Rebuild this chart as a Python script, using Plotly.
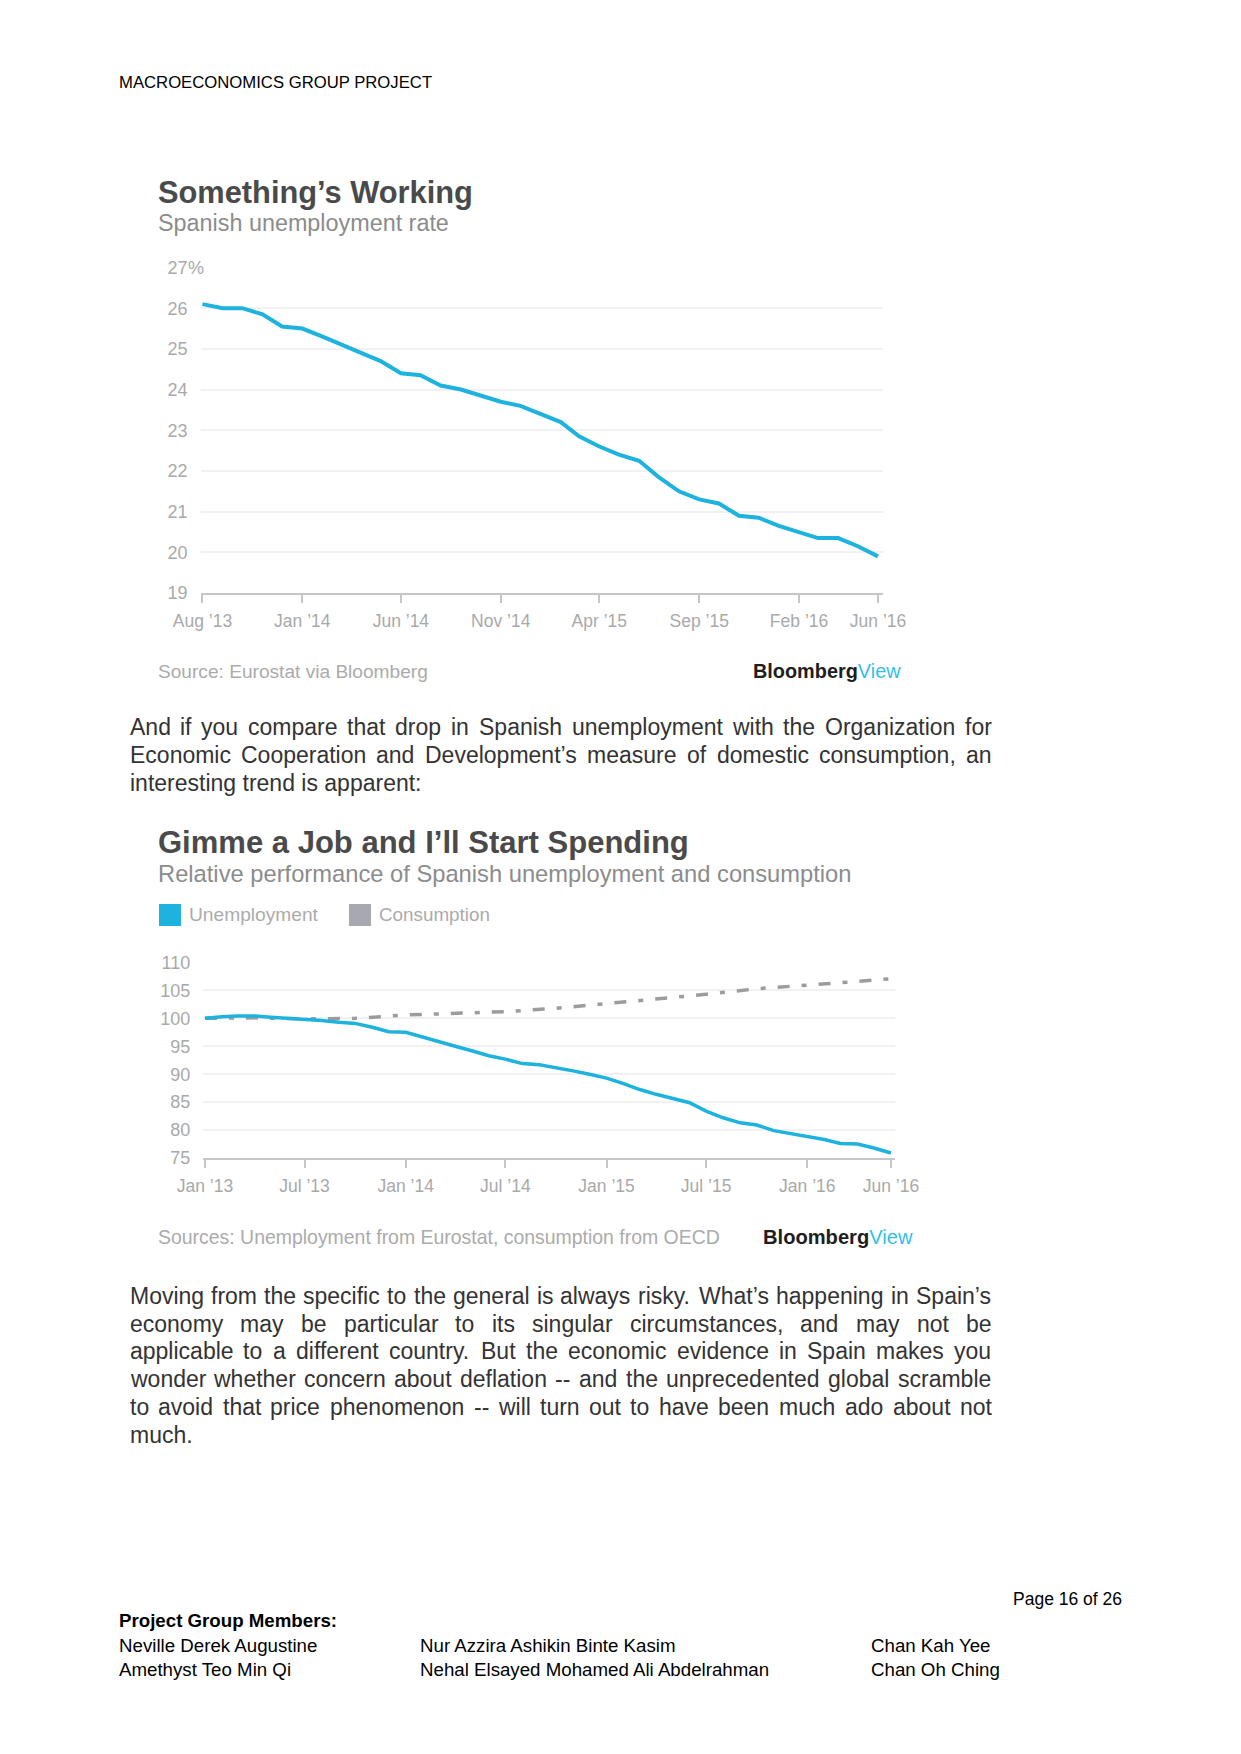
import plotly.graph_objects as go
import pandas as pd

# ------------------------------------------------------------------ data
# Chart 1: Spanish unemployment rate (%), monthly Aug 2013 - Jun 2016
rate_dates = pd.date_range("2013-08-01", "2016-06-01", freq="MS")
rate_values = [26.1, 26.0, 26.0, 25.85, 25.55, 25.5, 25.3, 25.1, 24.9, 24.7,
               24.4, 24.35, 24.1, 24.0, 23.85, 23.7, 23.6, 23.4, 23.2, 22.85,
               22.6, 22.4, 22.25, 21.85, 21.5, 21.3, 21.2, 20.9, 20.85, 20.65,
               20.5, 20.35, 20.35, 20.15, 19.9]
rate_xticks = ["2013-08-01", "2014-01-01", "2014-06-01", "2014-11-01",
               "2015-04-01", "2015-09-01", "2016-02-01", "2016-06-01"]
rate_xticktext = ["Aug \u201913", "Jan \u201914", "Jun \u201914", "Nov \u201914",
                  "Apr \u201915", "Sep \u201915", "Feb \u201916", "Jun \u201916"]
rate_yticks = [19, 20, 21, 22, 23, 24, 25, 26, 27]
rate_yticktext = ["19", "20", "21", "22", "23", "24", "25", "26", "27"]
rate_unit = "%"

# Chart 2: relative performance (index), unemployment monthly, consumption quarterly
idx_dates = pd.date_range("2013-01-01", "2016-06-01", freq="MS")
unemp_index = [100.0, 100.3, 100.4, 100.4, 100.2, 100.0, 99.9, 99.6, 99.3, 99.1,
               98.4, 97.6, 97.5, 96.6, 95.8, 95.0, 94.2, 93.3, 92.7, 91.9,
               91.7, 91.2, 90.6, 90.0, 89.3, 88.3, 87.3, 86.4, 85.6, 84.9,
               83.4, 82.2, 81.3, 80.9, 79.9, 79.4, 78.9, 78.3, 77.6, 77.5,
               76.8, 75.9]
cons_dates = ["2013-01-01", "2013-04-01", "2013-07-01", "2013-10-01",
              "2014-01-01", "2014-04-01", "2014-07-01", "2014-10-01",
              "2015-01-01", "2015-04-01", "2015-07-01", "2015-10-01",
              "2016-01-01", "2016-04-01", "2016-06-01"]
cons_index = [100.0, 100.1, 99.9, 100.0, 100.6, 100.9, 101.2, 101.8,
              102.6, 103.5, 104.3, 105.3, 105.9, 106.6, 107.1]
idx_xticks = ["2013-01-01", "2013-07-01", "2014-01-01", "2014-07-01",
              "2015-01-01", "2015-07-01", "2016-01-01", "2016-06-01"]
idx_xticktext = ["Jan \u201913", "Jul \u201913", "Jan \u201914", "Jul \u201914",
                 "Jan \u201915", "Jul \u201915", "Jan \u201916", "Jun \u201916"]
idx_yticks = [75, 80, 85, 90, 95, 100, 105, 110]

# text content
header_text = "MACROECONOMICS GROUP PROJECT"
title1 = "Something\u2019s Working"
subtitle1 = "Spanish unemployment rate"
source1 = "Source: Eurostat via Bloomberg"
title2 = "Gimme a Job and I\u2019ll Start Spending"
subtitle2 = "Relative performance of Spanish unemployment and consumption"
legend_names = ["Unemployment", "Consumption"]
source2 = "Sources: Unemployment from Eurostat, consumption from OECD"
para1 = ["And if you compare that drop in Spanish unemployment with the Organization for",
         "Economic Cooperation and Development\u2019s measure of domestic consumption, an",
         "interesting trend is apparent:"]
para2 = ["Moving from the specific to the general is always risky. What\u2019s happening in Spain\u2019s",
         "economy may be particular to its singular circumstances, and may not be",
         "applicable to a different country. But the economic evidence in Spain makes you",
         "wonder whether concern about deflation -- and the unprecedented global scramble",
         "to avoid that price phenomenon -- will turn out to have been much ado about not",
         "much."]
page_text = "Page 16 of 26"
members_title = "Project Group Members:"
members = [["Neville Derek Augustine", "Nur Azzira Ashikin Binte Kasim", "Chan Kah Yee"],
           ["Amethyst Teo Min Qi", "Nehal Elsayed Mohamed Ali Abdelrahman", "Chan Oh Ching"]]

# ------------------------------------------------------------------ layout helpers
W, H = 1225, 1738
OFF = 8
FONT = "Liberation Sans"
CYAN = "#1db3de"
GRAYLINE = "#9c9c9c"
GRID = "#f1f1f1"
AXIS = "#c6c6c6"
TICKC = "#a9a9a9"


def px(x):
    return (x - OFF) / W


def py(y):
    return 1 - (y - OFF) / H


REG = {' ': 278, '!': 278, '"': 355, '%': 889, "'": 191, '\u2019': 222, '(': 333, ')': 333,
       ',': 278, '-': 333, '.': 278, ':': 278, ';': 278,
       'A': 667, 'B': 667, 'C': 722, 'D': 722, 'E': 667, 'F': 611, 'G': 778, 'H': 722,
       'I': 278, 'J': 500, 'K': 667, 'L': 556, 'M': 833, 'N': 722, 'O': 778, 'P': 667,
       'Q': 778, 'R': 722, 'S': 667, 'T': 611, 'U': 722, 'V': 667, 'W': 944, 'X': 667,
       'Y': 667, 'Z': 611,
       'a': 556, 'b': 556, 'c': 500, 'd': 556, 'e': 556, 'f': 278, 'g': 556, 'h': 556,
       'i': 222, 'j': 222, 'k': 500, 'l': 222, 'm': 833, 'n': 556, 'o': 556, 'p': 556,
       'q': 556, 'r': 333, 's': 500, 't': 278, 'u': 556, 'v': 500, 'w': 722, 'x': 500,
       'y': 500, 'z': 500}
BOLD = dict(REG)
BOLD.update({'!': 333, "'": 238, '\u2019': 278, ':': 333, ';': 333,
             'A': 722, 'B': 722, 'J': 556, 'K': 722, 'L': 611,
             'b': 611, 'c': 556, 'd': 611, 'f': 333, 'g': 611, 'h': 611, 'i': 278,
             'j': 278, 'k': 556, 'l': 278, 'm': 889, 'n': 611, 'o': 611, 'p': 611,
             'q': 611, 'r': 389, 't': 333, 'u': 611, 'v': 556, 'w': 778, 'x': 556,
             'y': 556})


def em(s, bold=False):
    t = BOLD if bold else REG
    return sum(t.get(c, 556) for c in s) / 1000.0


def fit(s, width, bold=False):
    return width / em(s, bold)


annotations = []
shapes = []


def text(x, y, s, size, color, bold=False, xanchor="left", family=FONT):
    if bold:
        s = "<b>" + s + "</b>"
    annotations.append(dict(x=px(x), y=py(y), xref="paper", yref="paper", text=s,
                            showarrow=False, xanchor=xanchor, yanchor="middle",
                            borderpad=0, borderwidth=0,
                            font=dict(size=size, color=color, family=family)))


def justified(lines, x0, x1, y0, dy, size, color):
    for i, line in enumerate(lines):
        y = y0 + i * dy
        if i == len(lines) - 1:
            text(x0, y, line, size, color)
            continue
        words = line.split(" ")
        widths = [em(w) * size for w in words]
        gap = (x1 - x0 - sum(widths)) / (len(words) - 1)
        x = x0
        for w, wd in zip(words, widths):
            text(x, y, w, size, color)
            x += wd + gap


def bloomberg(x_right, y, width):
    size = width / (em("Bloomberg", True) + em("View"))
    annotations.append(dict(x=px(x_right), y=py(y), xref="paper", yref="paper",
                            text="<b>Bloomberg</b><span style='color:#34bfe8'>View</span>",
                            showarrow=False, xanchor="right", yanchor="middle",
                            borderpad=0, borderwidth=0,
                            font=dict(size=size, color="#1e1e1e", family=FONT)))


tickfont = dict(family=FONT, size=17.5, color=TICKC)
ytickfont = dict(family=FONT, size=18, color=TICKC)

# ------------------------------------------------------------------ page text
text(118.6, 82.8, header_text, 16.7, "#000000")

# chart 1 texts
text(158, 192.5, title1, fit(title1, 315, True), "#4a4a4a", bold=True)
text(158, 222.7, subtitle1, fit(subtitle1, 291), "#8c8c8c")
text(158, 671.4, source1, fit(source1, 270), "#ababab")
bloomberg(901, 671.4, 148)
# unit suffix after the top y tick label (left-aligned labels in the original)
annotations.append(dict(x=px(187.5), y=rate_yticks[-1], xref="paper", yref="y",
                        text=rate_unit, showarrow=False, xanchor="left", yanchor="middle",
                        borderpad=0, borderwidth=0, font=ytickfont))

# paragraph 1
justified(para1, 129.5, 991.5, 727.4, 27.95, 23, "#333333")

# chart 2 texts
text(158, 842.6, title2, fit(title2, 531, True), "#4a4a4a", bold=True)
text(158, 874.0, subtitle2, fit(subtitle2, 694), "#8c8c8c")
shapes.append(dict(type="rect", xref="paper", yref="paper", x0=px(159), x1=px(181),
                   y0=py(926), y1=py(904), fillcolor=CYAN, line=dict(width=0)))
text(189, 915, legend_names[0], fit(legend_names[0], 129), "#ababab")
shapes.append(dict(type="rect", xref="paper", yref="paper", x0=px(349), x1=px(371),
                   y0=py(926), y1=py(904), fillcolor="#a8a8b0", line=dict(width=0)))
text(379, 915, legend_names[1], fit(legend_names[1], 111), "#ababab")
text(158, 1236.5, source2, fit(source2, 562), "#ababab")
bloomberg(913, 1236.5, 150)

# paragraph 2
justified(para2, 129.5, 991.5, 1295.8, 27.75, 23, "#333333")

# footer
text(1122, 1599, page_text, 17.5, "#000000", xanchor="right")
text(118.6, 1620.5, members_title, 18.7, "#000000", bold=True)
cols = [118.6, 419.5, 870.5]
for r, row in enumerate(members):
    for c, name in enumerate(row):
        text(cols[c], 1645 + r * 24.6, name, 18.7, "#000000")

# ------------------------------------------------------------------ figure
fig = go.Figure()
fig.add_trace(go.Scatter(x=rate_dates, y=rate_values, mode="lines",
                         line=dict(color=CYAN, width=4), xaxis="x", yaxis="y",
                         hoverinfo="skip"))
fig.add_trace(go.Scatter(x=cons_dates, y=cons_index, mode="lines",
                         line=dict(color=GRAYLINE, width=3.5, dash="12px,12px,5px,12px"),
                         xaxis="x2", yaxis="y2", hoverinfo="skip"))
fig.add_trace(go.Scatter(x=idx_dates, y=unemp_index, mode="lines",
                         line=dict(color=CYAN, width=3.5), xaxis="x2", yaxis="y2",
                         hoverinfo="skip"))

fig.update_layout(
    width=W, height=H, autosize=False,
    margin=dict(l=0, r=0, t=0, b=0, pad=0, autoexpand=False),
    paper_bgcolor="white", plot_bgcolor="white",
    showlegend=False,
    xaxis=dict(domain=[px(200.5), px(882.6)], range=["2013-07-29", "2016-06-08"],
               type="date", tickmode="array", tickvals=rate_xticks, ticktext=rate_xticktext,
               showgrid=False, zeroline=False, showline=True, linecolor=AXIS, linewidth=2,
               ticks="outside", ticklen=8, tickwidth=2, tickcolor=AXIS, automargin=False,
               tickfont=tickfont, ticklabelstandoff=3, anchor="y", fixedrange=True),
    yaxis=dict(domain=[py(593), py(267.5)], range=[19, 27], tickmode="array",
               tickvals=rate_yticks, ticktext=rate_yticktext, showgrid=True,
               gridcolor=GRID, gridwidth=2, zeroline=False, showline=False, ticks="",
               automargin=False,
               tickfont=ytickfont, ticklabelstandoff=12, anchor="x", fixedrange=True),
    xaxis2=dict(domain=[px(203.3), px(894.8)], range=["2012-12-29", "2016-06-08"],
                type="date", tickmode="array", tickvals=idx_xticks, ticktext=idx_xticktext,
                showgrid=False, zeroline=False, showline=True, linecolor=AXIS, linewidth=2,
                ticks="outside", ticklen=8, tickwidth=2, tickcolor=AXIS, automargin=False,
                tickfont=tickfont, ticklabelstandoff=3, anchor="y2", fixedrange=True),
    yaxis2=dict(domain=[py(1158), py(962.5)], range=[75, 110], tickmode="array",
                tickvals=idx_yticks, showgrid=True, gridcolor=GRID, gridwidth=2,
                zeroline=False, showline=False, ticks="", tickfont=ytickfont,
                automargin=False,
                ticklabelstandoff=12, anchor="x2", fixedrange=True),
    annotations=annotations,
    shapes=shapes,
)

fig.write_html("out.html")
